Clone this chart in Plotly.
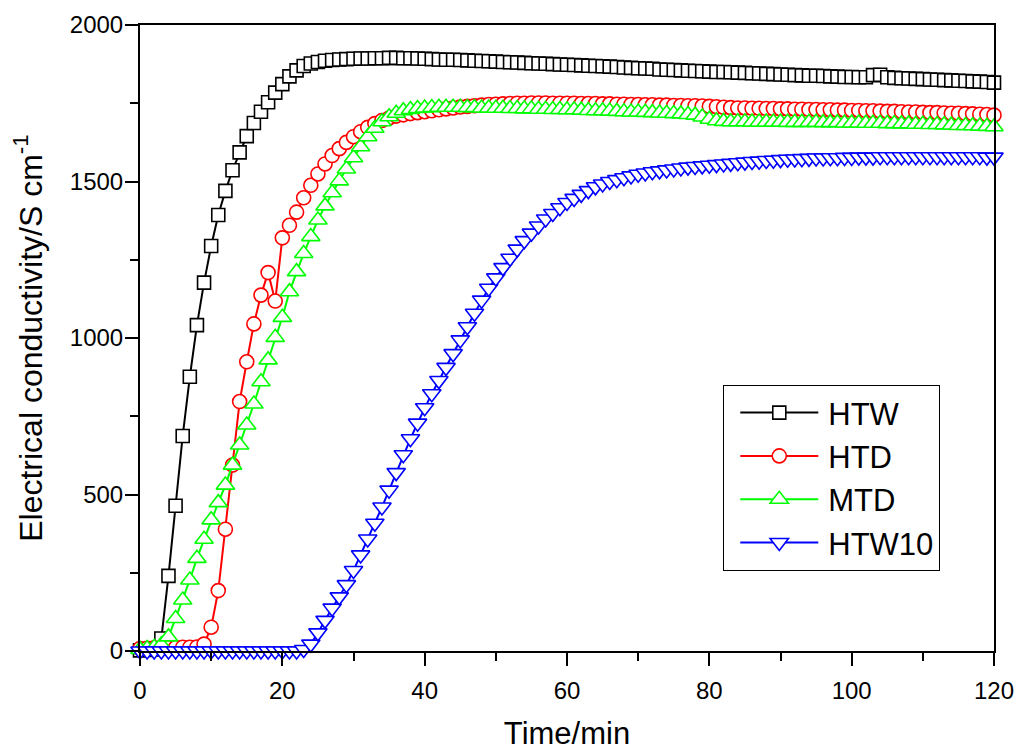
import plotly.graph_objects as go

time_min = list(range(0, 121))

htw = [2, 3, 5, 40, 240, 464, 687, 876, 1041, 1177,
       1294, 1393, 1470, 1536, 1593, 1645, 1687, 1723, 1753, 1784,
       1811, 1836, 1855, 1869, 1877, 1882, 1886, 1888, 1890, 1891,
       1892, 1893, 1893, 1894, 1894, 1895, 1895, 1894, 1894, 1893,
       1892, 1891, 1890, 1889, 1889, 1888, 1887, 1886, 1885, 1884,
       1883, 1882, 1881, 1880, 1879, 1878, 1877, 1876, 1875, 1874,
       1873, 1872, 1871, 1870, 1869, 1868, 1867, 1866, 1864, 1863,
       1862, 1861, 1860, 1858, 1857, 1856, 1855, 1854, 1853, 1852,
       1851, 1850, 1850, 1849, 1848, 1847, 1846, 1845, 1844, 1843,
       1842, 1841, 1840, 1839, 1838, 1838, 1837, 1836, 1835, 1834,
       1834, 1833, 1833, 1840, 1841, 1833, 1831, 1830, 1829, 1828,
       1827, 1826, 1825, 1824, 1823, 1822, 1821, 1820, 1819, 1818,
       1816]

htd = [8, 9, 10, 10, 11, 11, 12, 12, 13, 22,
       76, 193, 389, 594, 797, 924, 1045, 1137, 1209, 1118,
       1320, 1360, 1402, 1448, 1488, 1524, 1556, 1583, 1605, 1625,
       1643, 1659, 1673, 1685, 1695, 1703, 1709, 1713, 1717, 1720,
       1723, 1726, 1729, 1732, 1735, 1738, 1740, 1742, 1744, 1746,
       1747, 1748, 1749, 1750, 1750, 1751, 1751, 1751, 1750, 1750,
       1750, 1750, 1749, 1749, 1749, 1748, 1748, 1747, 1747, 1746,
       1746, 1745, 1745, 1744, 1744, 1743, 1743, 1742, 1742, 1741,
       1740, 1739, 1737, 1736, 1735, 1735, 1734, 1734, 1733, 1733,
       1732, 1732, 1731, 1731, 1730, 1730, 1729, 1729, 1728, 1728,
       1727, 1727, 1726, 1726, 1725, 1724, 1724, 1723, 1722, 1722,
       1721, 1720, 1720, 1719, 1718, 1718, 1717, 1716, 1715, 1714,
       1712]

mtd = [5, 8, 12, 20, 45, 104, 163, 227, 296, 357,
       419, 474, 530, 594, 658, 722, 789, 860, 930, 1002,
       1066, 1148, 1212, 1270, 1324, 1377, 1422, 1464, 1502, 1540,
       1576, 1611, 1643, 1670, 1691, 1707, 1718, 1726, 1730, 1733,
       1735, 1736, 1737, 1737, 1737, 1737, 1736, 1736, 1735, 1735,
       1734, 1734, 1733, 1733, 1732, 1732, 1731, 1731, 1730, 1730,
       1729, 1729, 1728, 1727, 1726, 1726, 1725, 1724, 1723, 1722,
       1722, 1721, 1720, 1719, 1718, 1717, 1716, 1714, 1712, 1706,
       1699, 1694, 1692, 1691, 1691, 1691, 1690, 1690, 1690, 1690,
       1690, 1689, 1689, 1689, 1689, 1689, 1688, 1688, 1688, 1687,
       1687, 1687, 1686, 1686, 1686, 1685, 1685, 1684, 1684, 1683,
       1683, 1682, 1682, 1681, 1680, 1679, 1679, 1678, 1677, 1676,
       1675]

htw10 = [0, 0, 0, 0, 0, 0, 0, 0, 0, 0,
         0, 0, 0, 0, 0, 0, 0, 0, 0, 0,
         0, 0, 0, 5, 22, 58, 98, 137, 173, 212,
         257, 307, 358, 408, 460, 514, 570, 627, 678, 728,
         777, 822, 864, 906, 950, 994, 1036, 1079, 1121, 1159,
         1192, 1225, 1255, 1284, 1311, 1335, 1358, 1380, 1398, 1416,
         1433, 1446, 1459, 1471, 1483, 1492, 1500, 1506, 1512, 1518,
         1523, 1527, 1531, 1534, 1537, 1540, 1543, 1546, 1548, 1550,
         1552, 1554, 1556, 1558, 1560, 1562, 1564, 1565, 1567, 1568,
         1570, 1571, 1572, 1573, 1574, 1575, 1575, 1576, 1576, 1577,
         1577, 1578, 1578, 1578, 1579, 1579, 1579, 1579, 1579, 1579,
         1579, 1579, 1579, 1579, 1579, 1579, 1579, 1579, 1579, 1578,
         1578]

series_names = ["HTW", "HTD", "MTD", "HTW10"]
series_values = [htw, htd, mtd, htw10]
series_colors = ["#000000", "#FF0000", "#00FF00", "#0000FF"]
series_symbols = ["square", "circle", "triangle-up", "triangle-down"]
series_sizes = [13, 14, 16, 16]

x_ticks = [0, 20, 40, 60, 80, 100, 120]
y_ticks = [0, 500, 1000, 1500, 2000]

FONT = "Liberation Sans, Arial, sans-serif"

fig = go.Figure()
for name, vals, col, sym, sz in zip(series_names, series_values, series_colors,
                                    series_symbols, series_sizes):
    fig.add_trace(go.Scatter(
        x=time_min, y=vals, name=name, mode="lines+markers",
        line=dict(color=col, width=2),
        marker=dict(symbol=sym, size=sz, color="white",
                    line=dict(color=col, width=1.6)),
        cliponaxis=False,
    ))

axis_common = dict(showgrid=False, zeroline=False, color="black", automargin=False)

fig.update_layout(
    width=1020, height=751,
    paper_bgcolor="white", plot_bgcolor="white",
    margin=dict(l=140, r=26, t=25, b=100),
    font=dict(family=FONT, color="black", size=24),
    showlegend=True,
    legend=dict(
        x=0.683, y=0.425, xanchor="left", yanchor="top",
        bgcolor="white", bordercolor="black", borderwidth=1,
        font=dict(size=31, family=FONT), itemwidth=94,
        tracegroupgap=0,
    ),
    xaxis=dict(
        **axis_common, range=[0, 120], tickvals=x_ticks,
        ticks="outside", ticklen=13, tickwidth=2, tickcolor="black",
        showline=True, linewidth=2, linecolor="black", mirror=True,
        minor=dict(dtick=10, ticks="outside", ticklen=8, tickwidth=2, tickcolor="black"),
        tickfont=dict(size=24), ticklabelstandoff=4,
        title=dict(text="Time/min", font=dict(size=31), standoff=22),
    ),
    yaxis=dict(
        **axis_common, range=[0, 2000], tickvals=y_ticks,
        ticks="outside", ticklen=13, tickwidth=2, tickcolor="black",
        showline=True, linewidth=2, linecolor="black", mirror=True,
        minor=dict(dtick=250, ticks="outside", ticklen=8, tickwidth=2, tickcolor="black"),
        tickfont=dict(size=24), ticklabelstandoff=-3,
        title=dict(text="Electrical conductivity/S cm<sup>-1</sup>", font=dict(size=32), standoff=18),
    ),
    xaxis2=dict(
        **axis_common, overlaying="x", side="top", range=[0, 120], tickvals=x_ticks,
        ticks="inside", ticklen=13, tickwidth=2, tickcolor="black",
        showticklabels=False, showline=False,
        minor=dict(dtick=10, ticks="inside", ticklen=8, tickwidth=2, tickcolor="black"),
    ),
    yaxis2=dict(
        **axis_common, overlaying="y", side="right", range=[0, 2000], tickvals=y_ticks,
        ticks="inside", ticklen=13, tickwidth=2, tickcolor="black",
        showticklabels=False, showline=False,
        minor=dict(dtick=250, ticks="inside", ticklen=8, tickwidth=2, tickcolor="black"),
    ),
)

post_js = """
document.body.style.margin = '0';
function fixLegend() {
  document.querySelectorAll('.legend .traces').forEach(function (t) {
    t.querySelectorAll('.legendlines path').forEach(function (p) {
      p.setAttribute('d', 'M16,0h78');
    });
    t.querySelectorAll('.legendpoints path.scatterpts').forEach(function (p) {
      p.setAttribute('transform', 'translate(55,0)');
    });
  });
}
fixLegend();
setTimeout(fixLegend, 50);
setTimeout(fixLegend, 300);
"""

fig.write_html("out.html", config={"displayModeBar": False}, post_script=post_js)
